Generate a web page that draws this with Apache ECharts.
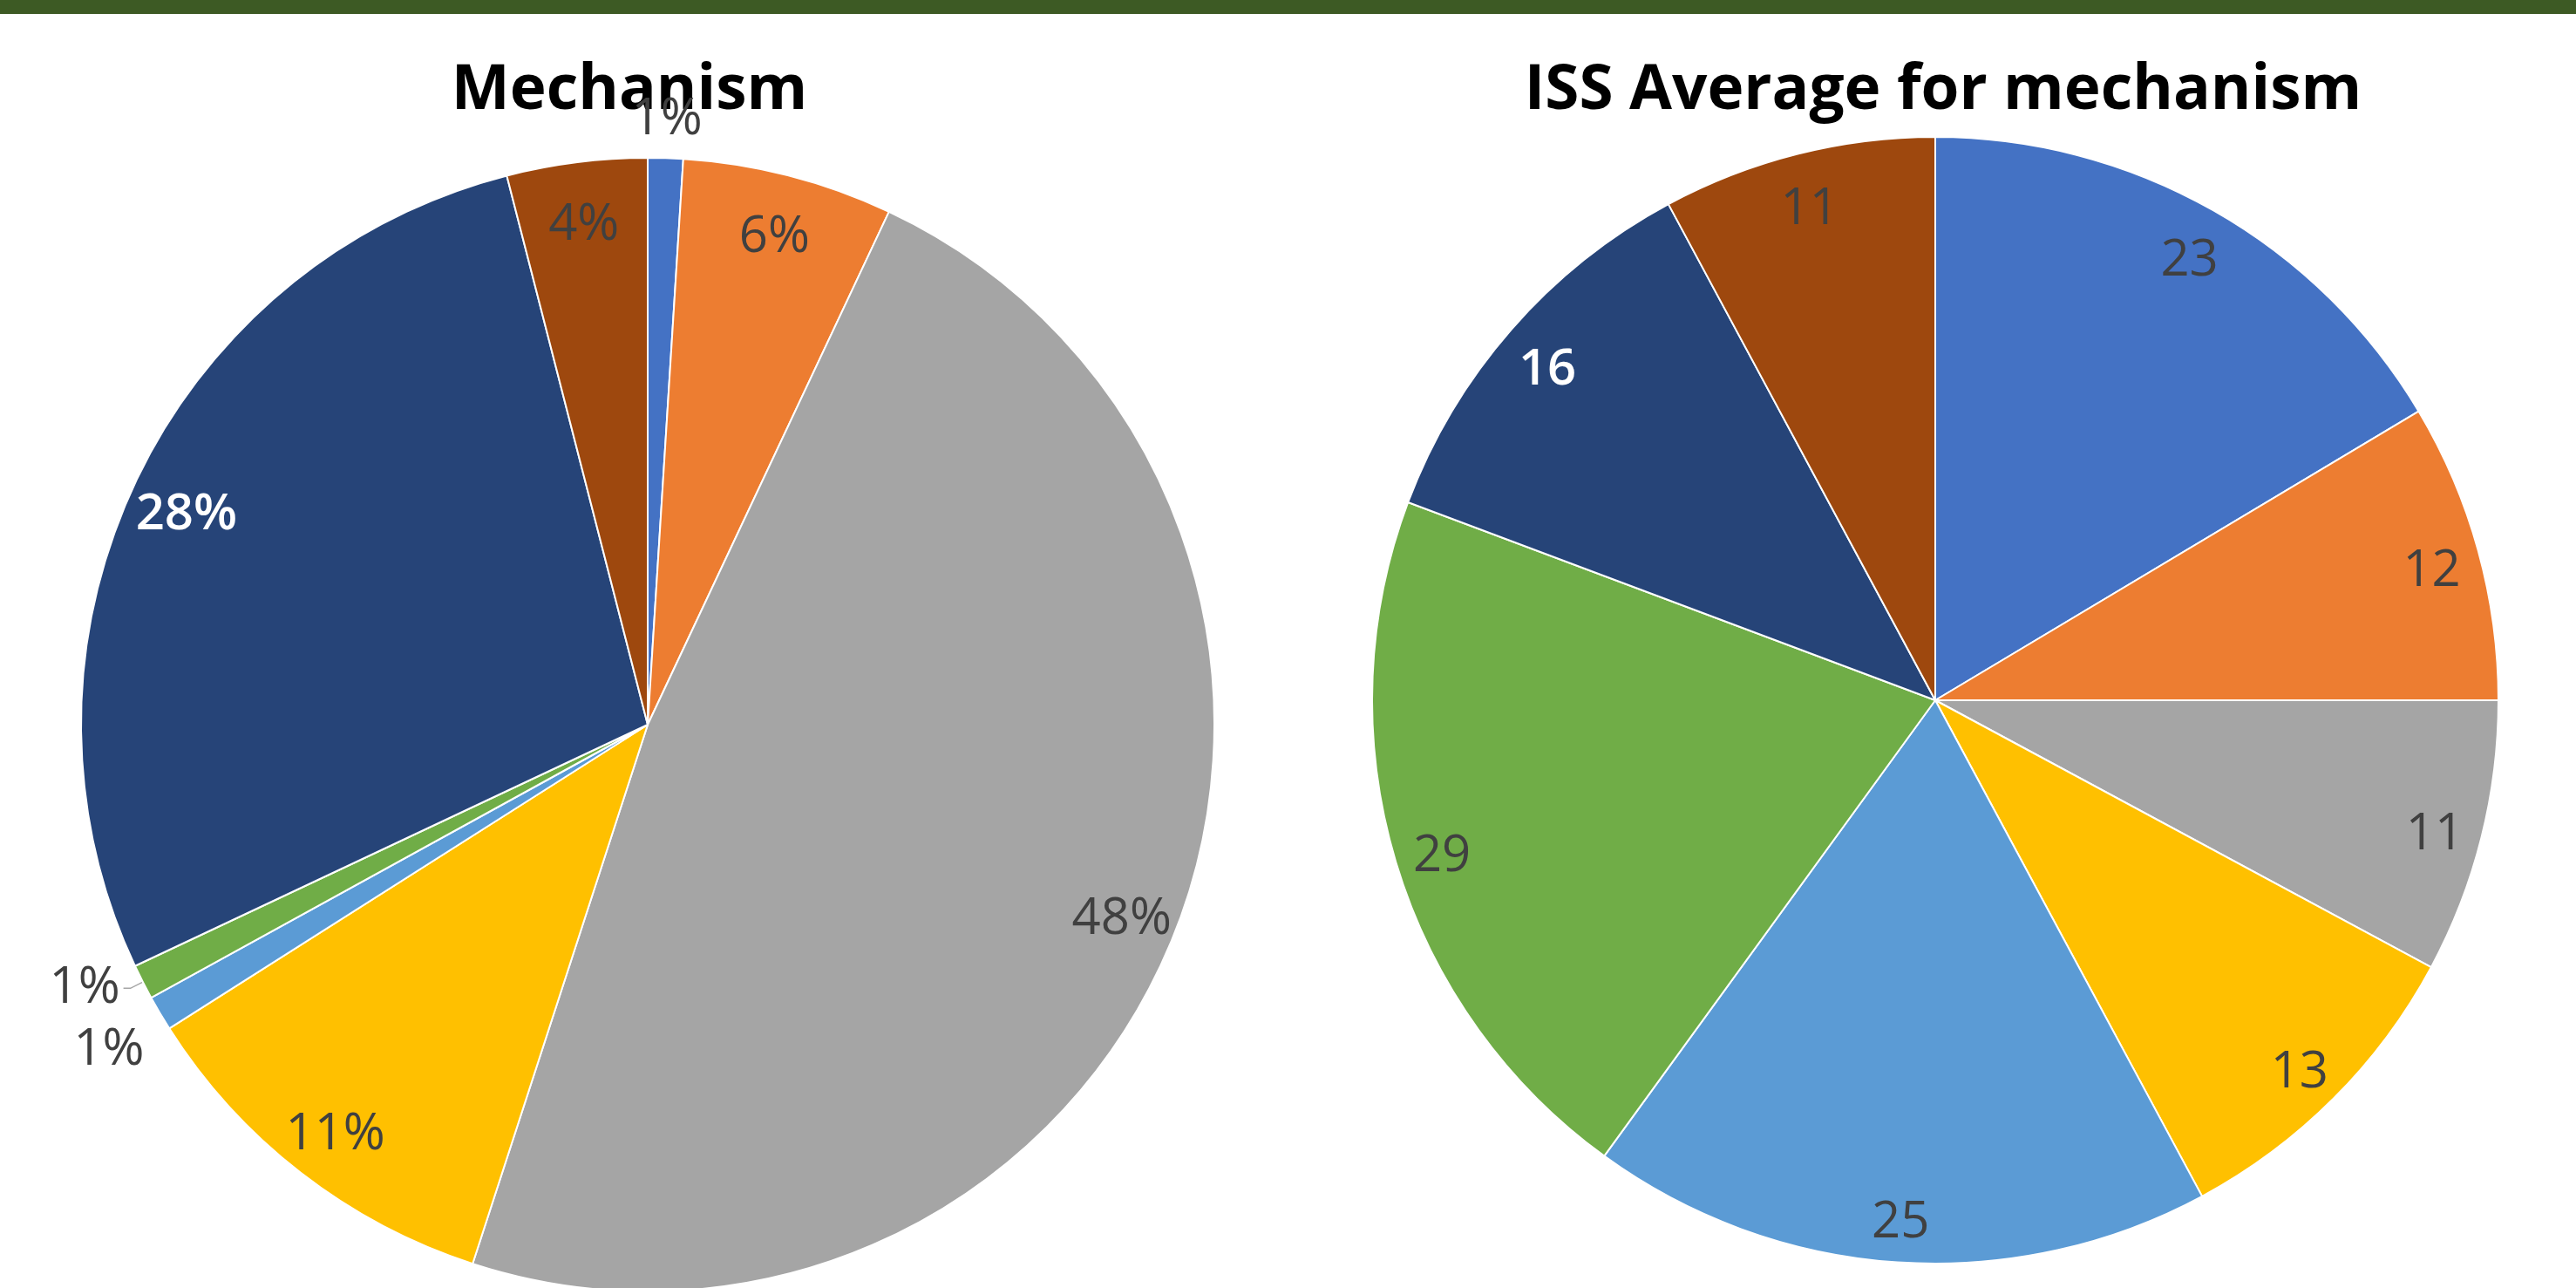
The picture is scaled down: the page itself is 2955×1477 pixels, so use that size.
<!DOCTYPE html>
<html>
<head>
<meta charset="utf-8">
<script src="https://cdn.jsdelivr.net/npm/echarts@6/dist/echarts.min.js"></script>
<style>
html,body{margin:0;padding:0;background:#ffffff;}
#c{width:2955px;height:1477px;}
</style>
</head>
<body>
<div id="c"></div>
<script>
// ---------- DATA ----------
const categories = ['Mechanism 1', 'Mechanism 2', 'Mechanism 3', 'Mechanism 4',
                    'Mechanism 5', 'Mechanism 6', 'Mechanism 7', 'Mechanism 8'];
const mechanismPercent = [1, 6, 48, 11, 1, 1, 28, 4];
const issAverage = [23, 12, 11, 13, 25, 29, 16, 11];
const chartTitles = ['Mechanism', 'ISS Average for mechanism'];

// ---------- STYLE ----------
const palette = ['#4472C4', '#ED7D31', '#A5A5A5', '#FFC000', '#5B9BD5', '#70AD47', '#264478', '#9E480E'];
const labelColors = ['#404040', '#404040', '#404040', '#404040', '#404040', '#404040', '#FFFFFF', '#404040'];
const LEFT = { cx: 743, cy: 831, r: 650, labelDrop: 8 };
const RIGHT = { cx: 2220, cy: 803, r: 646, labelDrop: 10 };
const leftTopOuterSlices = [0];       // label just above the pie
const leftSideOuterSlices = [4];      // label just outside on the left
const leftLeaderSlices = [5];         // label outside with a leader line
const FONT = 'Open Sans';
const LABEL_SIZE = 58;
const TITLE_SIZE = 71;

const chart = echarts.init(document.getElementById('c'), null, { renderer: 'canvas' });

function baseLabel(i, show, formatter) {
  const white = labelColors[i] === '#FFFFFF';
  return {
    show: show,
    formatter: formatter,
    color: labelColors[i],
    fontFamily: FONT,
    fontSize: LABEL_SIZE,
    fontWeight: white ? 600 : 'normal',
    lineHeight: 50
  };
}

const pctFmt = p => Math.round(p.percent) + '%';
const valFmt = p => String(p.value);
const has = (arr, i) => arr.indexOf(i) >= 0;

function mainSeries(geo, values, leaderIdx, fmt) {
  return {
    type: 'pie',
    center: [geo.cx, geo.cy],
    radius: geo.r,
    startAngle: 90,
    clockwise: true,
    avoidLabelOverlap: false,
    labelLayout: { hideOverlap: false },
    silent: true,
    animation: false,
    itemStyle: { borderColor: '#FFFFFF', borderWidth: 2 },
    label: { show: false },
    labelLine: { show: false },
    data: values.map((v, i) => {
      const lead = has(leaderIdx, i);
      return {
        name: categories[i],
        value: v,
        itemStyle: { color: palette[i] },
        label: Object.assign(baseLabel(i, lead, fmt), { position: 'outside', distanceToLabelLine: 4 }),
        labelLine: { show: lead, length: 16, length2: 8, smooth: false,
                     lineStyle: { color: '#A6A6A6', width: 1.5 } }
      };
    })
  };
}

// transparent ring used only to place the data labels at a chosen radius
function labelRing(geo, values, r0f, r1f, showFn, fmt) {
  return {
    type: 'pie',
    center: [geo.cx, geo.cy + geo.labelDrop],
    radius: [geo.r * r0f, geo.r * r1f],
    startAngle: 90,
    clockwise: true,
    avoidLabelOverlap: false,
    labelLayout: { hideOverlap: false },
    silent: true,
    animation: false,
    itemStyle: { color: 'rgba(0,0,0,0)', borderWidth: 0 },
    labelLine: { show: false },
    data: values.map((v, i) => ({
      name: categories[i],
      value: v,
      itemStyle: { color: 'rgba(0,0,0,0)' },
      label: Object.assign(baseLabel(i, showFn(v, i), fmt), { position: 'inside' })
    }))
  };
}

function titleText(x, text) {
  return { type: 'text', x: x, y: 105, z: 1,
    style: { text: text, fill: '#000000', fontFamily: FONT, fontWeight: 'bold', fontSize: TITLE_SIZE,
             align: 'center', verticalAlign: 'middle', textAlign: 'center', textVerticalAlign: 'middle' } };
}

const option = {
  backgroundColor: '#FFFFFF',
  animation: false,
  graphic: [
    { type: 'rect', shape: { x: 0, y: 0, width: 2955, height: 16 }, style: { fill: '#3D5A24' }, silent: true },
    titleText(722, chartTitles[0]),
    titleText(2229, chartTitles[1])
  ],
  series: [
    mainSeries(LEFT, mechanismPercent, leftLeaderSlices, pctFmt),
    labelRing(LEFT, mechanismPercent, 0.79, 1.0,
      (v, i) => !has(leftTopOuterSlices, i) && !has(leftSideOuterSlices, i) && !has(leftLeaderSlices, i), pctFmt),
    labelRing(LEFT, mechanismPercent, 1.0, 1.15, (v, i) => has(leftTopOuterSlices, i), pctFmt),
    labelRing(LEFT, mechanismPercent, 1.0, 1.2, (v, i) => has(leftSideOuterSlices, i), pctFmt),
    mainSeries(RIGHT, issAverage, [], valFmt),
    labelRing(RIGHT, issAverage, 0.82, 1.0, () => true, valFmt)
  ]
};

chart.setOption(option);
</script>
</body>
</html>
